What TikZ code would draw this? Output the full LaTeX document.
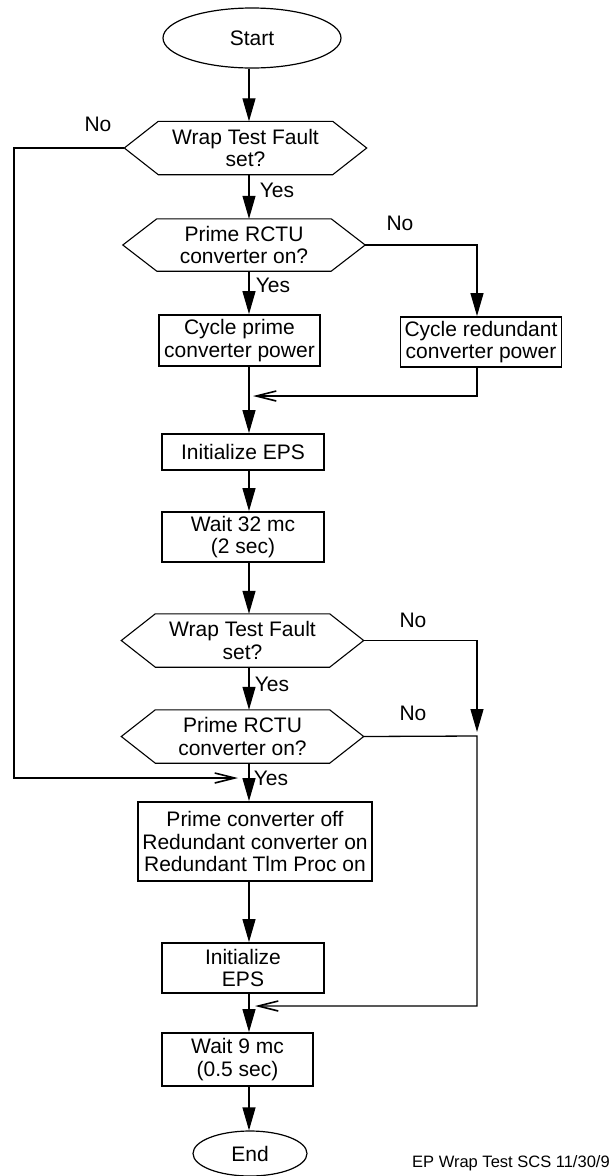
\documentclass[tikz,border=0pt]{standalone}
\usepackage{fontspec}
\setmainfont{Liberation Sans}
\usetikzlibrary{arrows.meta,calc,shapes.geometric}

% outline of a decision node: flat top and bottom, pointed left and right
\newcommand\hexoutline[1]{%
  \draw[hexline] ($(#1.north west)+(34,0)$) -- ($(#1.north east)+(-34,0)$)
    -- (#1.east) -- ($(#1.south east)+(-34,0)$) -- ($(#1.south west)+(34,0)$)
    -- (#1.west) -- cycle;}

\begin{document}
\begin{tikzpicture}[x=1pt,y=-1pt,
  txt/.style={font=\fontsize{21}{22.5}\selectfont},
  proc/.style={txt, draw, line width=1.8pt, rectangle, inner sep=0pt, align=center},
  term/.style={txt, draw, line width=1.2pt, ellipse, inner sep=0pt},
  dec/.style={txt, rectangle, minimum width=242pt, minimum height=53pt, inner sep=0pt, align=center},
  hexline/.style={line width=1.1pt, line join=miter},
  flow/.style={line width=1.2pt, -{Triangle[length=23pt,width=13pt]}},
  merge/.style={line width=1.3pt, -{Straight Barb[length=20pt,width=10pt,line width=1.6pt]}},
  lbl/.style={txt, inner sep=0pt}
]
\useasboundingbox (0,0) rectangle (611,1176);

% main column of the flow
\coordinate (sp) at (249,0);

\node[term, minimum width=178pt, minimum height=60pt] (start) at (252,38) {Start};

\node[dec] (d1) at (245.5,148) {Wrap Test Fault\\set?};
\hexoutline{d1}
\node[dec, minimum height=52pt] (d2) at (244,245) {Prime RCTU\\converter on?};
\hexoutline{d2}

\node[proc, minimum width=161pt, minimum height=51pt] (b1) at (239.5,340.5) {Cycle prime\\converter power};
\node[proc, minimum width=161pt, minimum height=50pt] (b2) at (481,342) {Cycle redundant\\converter power};

\node[proc, minimum width=162pt, minimum height=36pt] (b3) at (243,452) {Initialize EPS};
\node[proc, minimum width=162pt, minimum height=50pt] (b4) at (243,537) {Wait 32 mc\\(2 sec)};

\node[dec] (d3) at (242.5,640.5) {Wrap Test Fault\\set?};
\hexoutline{d3}
\node[dec] (d4) at (242.5,736.5) {Prime RCTU\\converter on?};
\hexoutline{d4}

\node[proc, minimum width=234pt, minimum height=79pt] (b5) at (255,841.5)
  {Prime converter off\\Redundant converter on\\Redundant Tlm Proc on};
\node[proc, minimum width=162pt, minimum height=50pt] (b6) at (243,968) {Initialize\\EPS};
\node[proc, minimum width=151pt, minimum height=53pt] (b7) at (237.5,1059.5) {Wait 9 mc\\(0.5 sec)};

\node[term, minimum width=114pt, minimum height=45pt] (end) at (250,1153.5) {End};

% branch labels
\node[lbl] (no1) at (98,124) {No};
\node[lbl] (yes1) at (277,190) {Yes};
\node[lbl] (no2) at (400,223) {No};
\node[lbl] (yes2) at (273,285) {Yes};
\node[lbl] (no3) at (413,620) {No};
\node[lbl] (yes3) at (272,684) {Yes};
\node[lbl] (no4) at (413,713) {No};
\node[lbl] (yes4) at (271,778) {Yes};

% junction points
\coordinate (m1) at (249,396);
\coordinate (lft) at (14,778);
\coordinate (m2) at (249,778);
\coordinate (rt) at (477,736);
\coordinate (rb) at (477,1006);
\coordinate (m3) at (249,1006);

% connectors
\draw[flow] (start.south -| sp) -- (d1.north -| sp);
\draw[flow] (d1.south -| sp) -- (d2.north -| sp);
\draw[flow] (d2.south -| sp) -- (b1.north -| sp);
\draw[flow] (d2.east) -| (b2.north -| rt);
\draw[merge, shorten >=4pt] (b2.south -| rt) |- (m1);
\draw[flow] (b1.south -| sp) -- (b3.north -| sp);
\draw[flow] (b3.south -| sp) -- (b4.north -| sp);
\draw[flow] (b4.south -| sp) -- (d3.north -| sp);
\draw[flow] (d3.south -| sp) -- (d4.north -| sp);
\draw[merge, shorten >=11pt] (d1.west) -| (lft) -- (m2);
\draw[flow, shorten >=4pt] (d3.east) -| (rt);
\draw[merge, shorten >=6pt] (d4.east) -- (rt) -- (rb) -- (m3);
\draw[flow] (d4.south -| sp) -- (b5.north -| sp);
\draw[flow] (b5.south -| sp) -- (b6.north -| sp);
\draw[flow] (b6.south -| sp) -- (b7.north -| sp);
\draw[flow] (b7.south -| sp) -- (end.north -| sp);

\node[font=\fontsize{16.5}{18}\selectfont, anchor=base west, inner sep=0pt] (foot) at (412,1167)
  {EP Wrap Test SCS 11/30/9};
\end{tikzpicture}
\end{document}
